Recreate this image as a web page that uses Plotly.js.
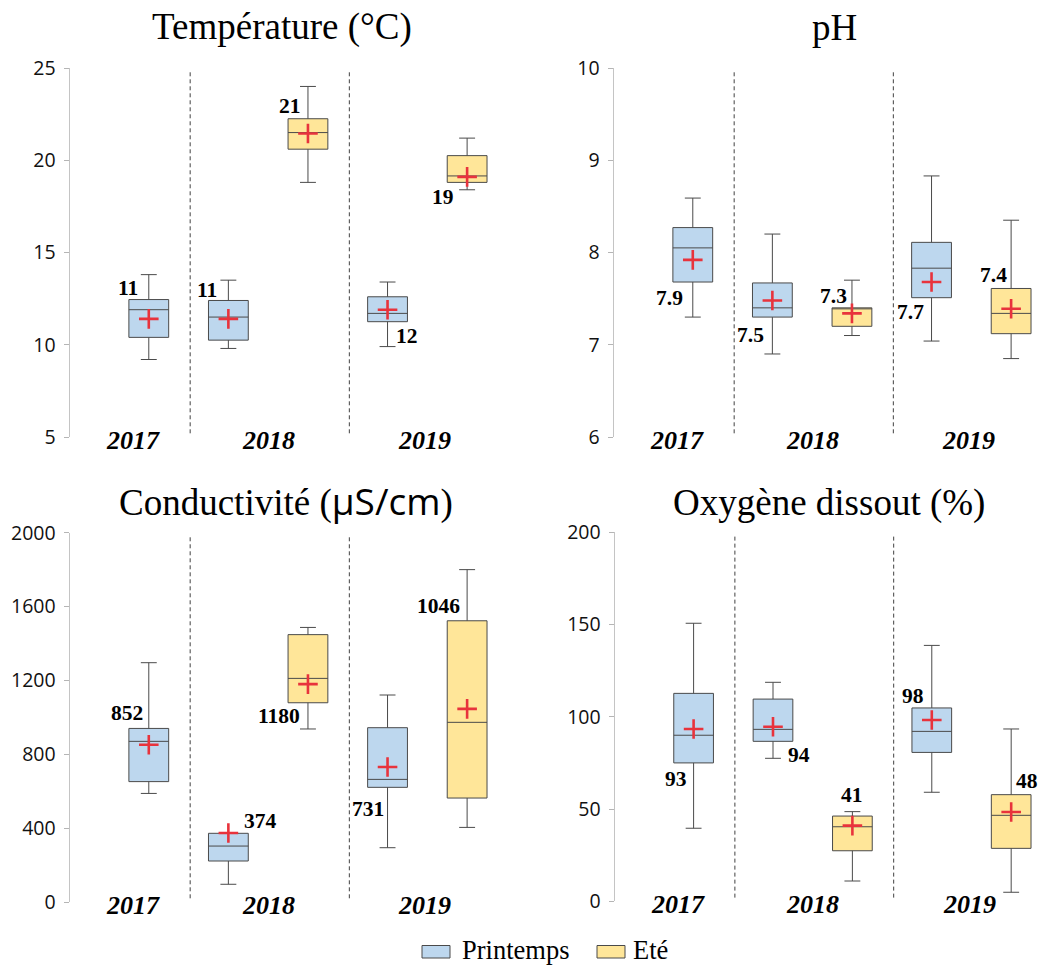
<!DOCTYPE html>
<html><head><meta charset="utf-8">
<script src="https://cdn.plot.ly/plotly-3.0.1.min.js"></script>
<style>html,body{margin:0;padding:0;background:#fff}#chart{width:1041px;height:967px}</style>
</head><body><div id="chart"></div>
<script>
// ---- categories ----
const years = ['2017', '2018', '2019'];
const seasons = ['Printemps', 'Eté'];
const boxYear = ['2017', '2018', '2018', '2019', '2019'];
const boxSeason = ['Printemps', 'Printemps', 'Eté', 'Printemps', 'Eté'];

// ---- Température (°C) ----
const tempLow  = [9.2, 9.8, 18.8, 9.9, 18.4];
const tempQ1   = [10.4, 10.25, 20.6, 11.25, 18.8];
const tempMed  = [11.9, 11.5, 21.5, 11.7, 19.15];
const tempQ3   = [12.45, 12.4, 22.25, 12.6, 20.25];
const tempHigh = [13.8, 13.5, 24.0, 13.4, 21.2];
const tempMean = [11.4, 11.4, 21.45, 11.9, 19.1];
const tempLabels = ['11', '11', '21', '12', '19'];

// ---- pH ----
const phLow  = [7.30, 6.90, 7.10, 7.04, 6.85];
const phQ1   = [7.68, 7.30, 7.20, 7.51, 7.12];
const phMed  = [8.05, 7.40, 7.39, 7.83, 7.34];
const phQ3   = [8.27, 7.67, 7.40, 8.11, 7.61];
const phHigh = [8.59, 8.20, 7.70, 8.83, 8.35];
const phMean = [7.92, 7.48, 7.34, 7.68, 7.39];
const phLabels = ['7.9', '7.5', '7.3', '7.7', '7.4'];

// ---- Conductivité (µS/cm) ----
const condLow  = [588, 96, 937, 294, 404];
const condQ1   = [652, 222, 1079, 621, 563];
const condMed  = [870, 303, 1211, 664, 973];
const condQ3   = [940, 372, 1448, 944, 1523];
const condHigh = [1296, 372, 1487, 1121, 1800];
const condMean = [852, 374, 1180, 731, 1046];
const condLabels = ['852', '374', '1180', '731', '1046'];

// ---- Oxygène dissout (%) ----
const oxyLow  = [39.6, 77.5, 11.0, 59.1, 4.9];
const oxyQ1   = [75.0, 86.7, 27.4, 80.7, 28.7];
const oxyMed  = [90.0, 93.2, 40.4, 92.1, 46.6];
const oxyQ3   = [112.7, 109.6, 46.2, 104.8, 57.8];
const oxyHigh = [150.7, 118.7, 48.6, 138.7, 93.4];
const oxyMean = [93.4, 94.6, 41.0, 98.3, 48.4];
const oxyLabels = ['93', '94', '41', '98', '48'];

const panelTitles = ['Température (°C)', 'pH',
  'Conductivité (<span style="font-family:Open Sans">µS/cm</span>)', 'Oxygène dissout (%)'];
const yRanges = [[5, 25], [6, 10], [0, 2000], [0, 200]];
const yDticks = [5, 1, 400, 50];

// ---- styles / layout helpers ----
const W = 1041, H = 967;
const seasonFill = {'Printemps': '#BDD7EE', 'Eté': '#FFE699'};
const panelsPx = [
  {l: 70, r: 491, t: 68, b: 437},
  {l: 614, r: 1035, t: 68, b: 437},
  {l: 70, r: 491, t: 532.7, b: 902},
  {l: 615, r: 1035, t: 532.3, b: 901.3}
];
const titlePx = [{x: 281.5, y: 27}, {x: 834.5, y: 27}, {x: 285.5, y: 500.5}, {x: 829, y: 503}];
const labelShift = [
  [[-21, 31], [-21, 29], [-18, 28], [19, -26], [-24, -20]],
  [[-23, -38], [-21.5, -35], [-18, 17], [-21, -30], [-18, 34]],
  [[-21.5, 31.6], [32, 12.4], [-29, -31.4], [-19.5, -42], [-28.5, 102.6]],
  [[-18, -50], [25.5, -28.7], [0, 30.7], [-19, 24.4], [16, 31.5]]
];
const yearLabelPos = [-0.2, 1.5, 3.47];
const separatorPos = [0.52, 2.52];

const stats = [
  [tempLow, tempQ1, tempMed, tempQ3, tempHigh, tempMean, tempLabels],
  [phLow, phQ1, phMed, phQ3, phHigh, phMean, phLabels],
  [condLow, condQ1, condMed, condQ3, condHigh, condMean, condLabels],
  [oxyLow, oxyQ1, oxyMed, oxyQ3, oxyHigh, oxyMean, oxyLabels]
];

const boxKeys = boxYear.map((y, i) => y + ' ' + boxSeason[i]);

const data = [];
const layout = {
  width: W, height: H,
  margin: {l: 0, r: 0, t: 0, b: 0},
  paper_bgcolor: '#fff', plot_bgcolor: '#fff',
  showlegend: false,
  boxmode: 'overlay',
  annotations: [], shapes: []
};

stats.forEach((s, p) => {
  const [low, q1, med, q3, high, mean, labels] = s;
  const sfx = p === 0 ? '' : String(p + 1);
  const xa = 'x' + sfx, ya = 'y' + sfx;
  seasons.forEach(season => {
    const idx = boxSeason.map((v, i) => v === season ? i : -1).filter(i => i >= 0);
    data.push({
      type: 'box', name: season, xaxis: xa, yaxis: ya,
      x: idx.map(i => boxKeys[i]),
      lowerfence: idx.map(i => low[i]), q1: idx.map(i => q1[i]),
      median: idx.map(i => med[i]), q3: idx.map(i => q3[i]),
      upperfence: idx.map(i => high[i]),
      width: 0.5, whiskerwidth: 0.4, boxpoints: false,
      fillcolor: seasonFill[season],
      line: {color: '#4a4a4a', width: 1},
      hoverinfo: 'skip'
    });
  });
  data.push({
    type: 'scatter', mode: 'markers', xaxis: xa, yaxis: ya,
    x: boxKeys, y: mean,
    marker: {symbol: 'cross-thin', size: 14, line: {color: '#E8333C', width: 2.6}},
    hoverinfo: 'skip'
  });
  const px = panelsPx[p];
  layout['xaxis' + sfx] = {
    domain: [px.l / W, px.r / W], anchor: ya,
    type: 'category', categoryorder: 'array', categoryarray: boxKeys,
    range: [-0.99, 4.3], visible: false, fixedrange: true
  };
  layout['yaxis' + sfx] = {
    domain: [1 - px.b / H, 1 - px.t / H], anchor: xa,
    range: yRanges[p], dtick: yDticks[p], tick0: 0,
    showline: true, linecolor: '#C4C4C4', linewidth: 1.5,
    ticks: 'outside', ticklen: 5, tickcolor: '#B5B5B5', tickwidth: 1,
    ticklabelstandoff: 4,
    showgrid: false, zeroline: false,
    tickfont: {family: 'Open Sans', size: 19.5, color: '#111'}
  };
  // title
  layout.annotations.push({
    xref: 'paper', yref: 'paper', x: titlePx[p].x / W, y: 1 - titlePx[p].y / H,
    xanchor: 'center', yanchor: 'middle', showarrow: false,
    text: panelTitles[p],
    font: {family: 'Liberation Serif', size: 37, color: '#000'}
  });
  // mean labels
  labels.forEach((t, i) => {
    layout.annotations.push({
      xref: xa, yref: ya, x: i, y: mean[i],
      xshift: labelShift[p][i][0], yshift: labelShift[p][i][1],
      xanchor: 'center', yanchor: 'middle', showarrow: false,
      text: t,
      font: {family: 'Liberation Serif', size: 21.5, color: '#000', weight: 'bold'}
    });
  });
  // year labels
  years.forEach((yr, j) => {
    layout.annotations.push({
      xref: xa, yref: ya + ' domain', x: yearLabelPos[j], y: 0, yshift: -3.5,
      xanchor: 'center', yanchor: 'middle', showarrow: false,
      text: yr,
      font: {family: 'Liberation Serif', size: 26, color: '#000', weight: 'bold', style: 'italic'}
    });
  });
  // separators
  separatorPos.forEach(sx => {
    layout.shapes.push({
      type: 'line', xref: xa, yref: ya + ' domain', x0: sx, x1: sx, y0: 0.01, y1: 0.99,
      line: {color: '#404040', width: 1, dash: '4px,3px'}
    });
  });
});

// manual legend
const legendPx = [{sx: 422, tx: 460}, {sx: 597, tx: 631}];
seasons.forEach((season, k) => {
  const lp = legendPx[k];
  layout.shapes.push({
    type: 'rect', xref: 'paper', yref: 'paper',
    x0: lp.sx / W, x1: (lp.sx + 28) / W, y0: 1 - 958 / H, y1: 1 - 945.5 / H,
    fillcolor: seasonFill[season], line: {color: '#4a4a4a', width: 1}
  });
  layout.annotations.push({
    xref: 'paper', yref: 'paper', x: lp.tx / W, y: 1 - 950 / H,
    xanchor: 'left', yanchor: 'middle', showarrow: false,
    text: season,
    font: {family: 'Liberation Serif', size: 26.5, color: '#000'}
  });
});

Plotly.newPlot('chart', data, layout, {staticPlot: true, displayModeBar: false});
</script>
</body></html>
